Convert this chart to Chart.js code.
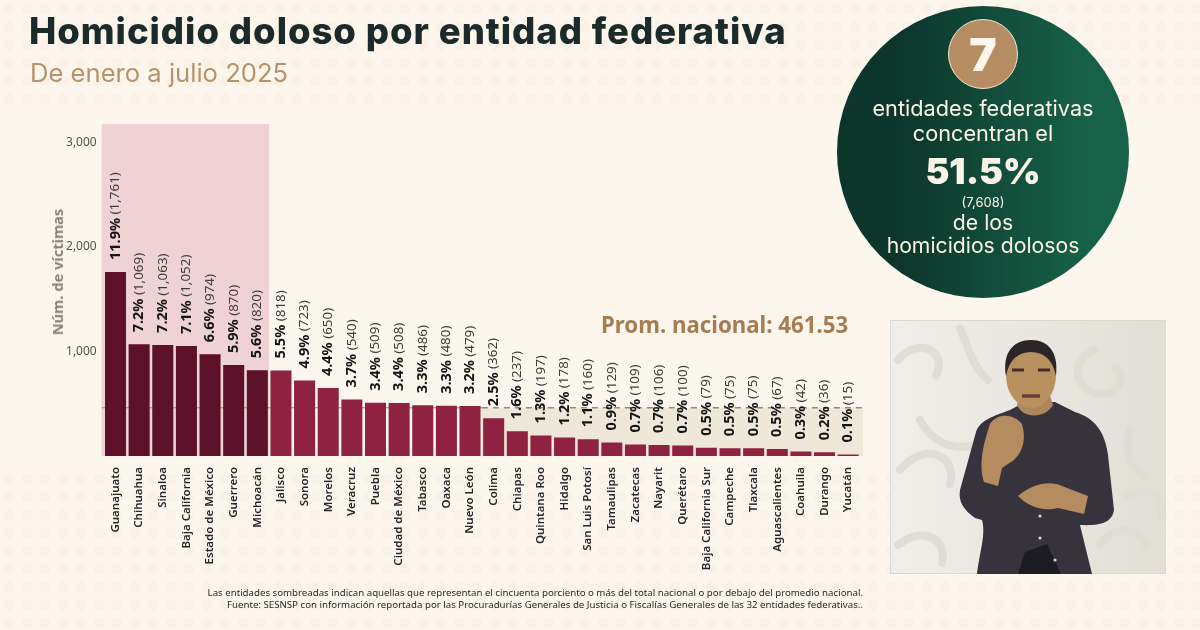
<!DOCTYPE html>
<html lang="es">
<head>
<meta charset="utf-8">
<title>Homicidio doloso por entidad federativa</title>
<script src="https://cdn.jsdelivr.net/npm/chart.js@4/dist/chart.umd.min.js"></script>
<style>
    html, body { margin: 0; padding: 0; }
    body { width: 1200px; height: 630px; overflow: hidden; position: relative; background: #fdf6ec; font-family: Inter, sans-serif; }
    .dots { position: absolute; left: 0; width: 1200px; background-image: radial-gradient(circle, #fbf2e7 5px, transparent 6px); background-size: 18px 18px; }
    #chart { position: absolute; left: 0; top: 0; }
    .txt { position: absolute; white-space: nowrap; }
    #titulo { left: 29px; top: 9px; font-size: 36.5px; font-weight: 800; letter-spacing: 0.95px; color: #1b2a2b; line-height: 44px; }
    #subtitulo { left: 30px; top: 57px; font-size: 25.6px; font-weight: 400; color: #b8926a; line-height: 32px; }
    #prom { left: 601px; top: 310px; font: bold 22.25px "Noto Sans", sans-serif; color: #a67c52; line-height: 30px; }
    #ejeY { left: 57px; top: 272px; transform: translate(-50%, -50%) rotate(-90deg); font: bold 14.6px "Noto Sans", sans-serif; color: #8a8178; }
    #nota { right: 337px; top: 587px; font: 9.68px/11.5px "Noto Sans", sans-serif; color: #2b2825; text-align: right; }
    #circulo { position: absolute; left: 837px; top: 6px; width: 292px; height: 292px; border-radius: 50%; background: linear-gradient(90deg, #0c352b 20%, #176148 85%); }
    #circulo .txt { left: 0; width: 292px; text-align: center; color: #fbf3e6; }
    #siete { position: absolute; left: 111px; top: 13px; width: 68px; height: 68px; border: 1.5px solid #f3e6d3; border-radius: 50%; background: #b68d62; color: #fdf6ec; font-size: 46px; font-weight: 900; line-height: 68px; text-align: center; }
    #interprete { position: absolute; left: 890px; top: 320px; width: 276px; height: 254px; }
</style>
</head>
<body>
<div class="dots" style="top:0;height:110px"></div>
<div class="dots" style="top:470px;height:160px"></div>

<canvas id="chart" width="1200" height="630"></canvas>

<div class="txt" id="titulo">Homicidio doloso por entidad federativa</div>
<div class="txt" id="subtitulo">De enero a julio 2025</div>
<div class="txt" id="ejeY">Núm. de víctimas</div>
<div class="txt" id="prom">Prom. nacional: 461.53</div>
<div class="txt" id="nota">Las entidades sombreadas indican aquellas que representan el cincuenta porciento o más del total nacional o por debajo del promedio nacional.<br>Fuente: SESNSP con información reportada por las Procuradurías Generales de Justicia o Fiscalías Generales de las 32 entidades federativas..</div>

<div id="circulo">
    <div id="siete">7</div>
    <div class="txt" style="top:89px;font-size:21.7px;line-height:26px">entidades federativas</div>
    <div class="txt" style="top:114px;font-size:21.7px;line-height:26px">concentran el</div>
    <div class="txt" style="top:142px;font-size:36px;font-weight:900;line-height:46px">51.5%</div>
    <div class="txt" style="top:187px;font-size:13px;line-height:18px">(7,608)</div>
    <div class="txt" style="top:203px;font-size:21.2px;line-height:26px">de los</div>
    <div class="txt" style="top:226px;font-size:21.2px;line-height:26px">homicidios dolosos</div>
</div>

<svg id="interprete" viewBox="0 0 276 254">
    <defs><linearGradient id="fondoFoto" x1="0" x2="1"><stop offset="0" stop-color="#f0eee9"/><stop offset="1" stop-color="#e2dfd8"/></linearGradient></defs>
    <rect x="0.5" y="0.5" width="275" height="253" fill="url(#fondoFoto)" stroke="#dcd8cf"/>
    <g fill="none" stroke="#e0ddd5" stroke-width="8" stroke-linecap="round">
        <path d="M8 40c22-25 50-8 38 16M70 8c10 25 14 40 28 52M10 150c25-30 58-14 50 14M30 100c10 20 30 30 50 26M8 225c25-20 50-6 44 18"/>
        <path d="M205 30c-25 8-22 40 4 44 20 2 28-16 16-26M240 110c-6 20 0 36 14 46M236 175c25-10 40 5 36 22M210 225c10-18 36-20 46 0"/>
    </g>
    <path d="M87 254C90 230 96 215 92 200L85 198C74 190 68 182 70 170L86 112C90 100 104 96 120 90L135 82H165L185 92C205 98 215 112 218 135L224 190C222 202 212 206 190 205L202 254Z" fill="#36333c"/>
    <path d="M128 254l7-22 22-8 14 30z" fill="#1b1c1f"/>
    <path d="M127 85c6 14 28 14 36 0l-6-20h-24z" fill="#ad875b"/>
    <ellipse cx="141" cy="55" rx="25" ry="33" fill="#b8915f"/>
    <path d="M116 56c-4-24 8-36 25-36s28 12 25 36c-3-16-12-24-25-24s-22 8-25 24z" fill="#2b2528"/>
    <path d="M122 50h12M148 50h12" stroke="#4d2a2a" stroke-width="3"/>
    <path d="M132 76h18" stroke="#6e3b3b" stroke-width="3.5"/>
    <path d="M100 104c8-12 24-10 32 0 4 14 2 26-8 36l-12 8-4 18-14-4c-6-18 0-40 6-58z" fill="#b48c5f"/>
    <path d="M128 176c14-12 32-16 44-10l26 10-4 18-26-6c-16 4-30-2-40-12z" fill="#b48c5f"/>
    <g fill="#d8d4cc"><circle cx="150" cy="196" r="1.6"/><circle cx="150" cy="218" r="1.6"/><circle cx="165" cy="240" r="1.6"/></g>
</svg>

<script>
// الفئات والقيم مأخوذة من الصورة
const categorias = ['Guanajuato', 'Chihuahua', 'Sinaloa', 'Baja California', 'Estado de México', 'Guerrero', 'Michoacán', 'Jalisco', 'Sonora', 'Morelos', 'Veracruz', 'Puebla', 'Ciudad de México', 'Tabasco', 'Oaxaca', 'Nuevo León', 'Colima', 'Chiapas', 'Quintana Roo', 'Hidalgo', 'San Luis Potosí', 'Tamaulipas', 'Zacatecas', 'Nayarit', 'Querétaro', 'Baja California Sur', 'Campeche', 'Tlaxcala', 'Aguascalientes', 'Coahuila', 'Durango', 'Yucatán'];
const victimas = [1761, 1069, 1063, 1052, 974, 870, 820, 818, 723, 650, 540, 509, 508, 486, 480, 479, 362, 237, 197, 178, 160, 129, 109, 106, 100, 79, 75, 75, 67, 42, 36, 15];
const porcentajes = ['11.9%', '7.2%', '7.2%', '7.1%', '6.6%', '5.9%', '5.6%', '5.5%', '4.9%', '4.4%', '3.7%', '3.4%', '3.4%', '3.3%', '3.3%', '3.2%', '2.5%', '1.6%', '1.3%', '1.2%', '1.1%', '0.9%', '0.7%', '0.7%', '0.7%', '0.5%', '0.5%', '0.5%', '0.5%', '0.3%', '0.2%', '0.1%'];
const yTicks = [1000, 2000, 3000];
const promedio = 461.53;
const numConcentran = 7;
const inicioBajoPromedio = 16;

const colorBar = (ctx) => ctx.dataIndex < numConcentran ? '#5c1029' : '#8f2240';

// sombreados y línea de promedio detrás de las barras
const fondoPlugin = {
    id: 'fondo',
    beforeDatasetsDraw(chart) {
        const { ctx, chartArea, scales } = chart;
        const band = scales.x.width / categorias.length;
        const yProm = scales.y.getPixelForValue(promedio);
        const xBeige = chartArea.left + band * inicioBajoPromedio;
        ctx.save();
        ctx.fillStyle = '#eed2d4';
        ctx.fillRect(chartArea.left - 2, chartArea.top, band * numConcentran + 2, chartArea.height);
        ctx.fillStyle = '#efe8d8';
        ctx.fillRect(xBeige, yProm, chartArea.right + 3 - xBeige, chartArea.bottom - yProm);
        ctx.strokeStyle = '#a5845f';
        ctx.lineWidth = 1;
        ctx.beginPath();
        ctx.moveTo(chartArea.left - 2, yProm);
        ctx.lineTo(xBeige, yProm);
        ctx.stroke();
        ctx.restore();
    },
    afterDatasetsDraw(chart) {
        const { ctx, chartArea, scales } = chart;
        const band = scales.x.width / categorias.length;
        const yProm = scales.y.getPixelForValue(promedio);
        ctx.save();
        ctx.strokeStyle = '#8d8880';
        ctx.lineWidth = 1.5;
        ctx.setLineDash([6, 5]);
        ctx.beginPath();
        ctx.moveTo(chartArea.left + band * inicioBajoPromedio, yProm);
        ctx.lineTo(chartArea.right + 3, yProm);
        ctx.stroke();
        ctx.restore();
    }
};

// etiquetas verticales: porcentaje en negritas y total entre paréntesis
const etiquetasPlugin = {
    id: 'etiquetas',
    afterDraw(chart) {
        const { ctx, scales } = chart;
        ctx.save();
        ctx.textBaseline = 'middle';
        ctx.textAlign = 'left';
        victimas.forEach((valor, i) => {
            const x = scales.x.getPixelForValue(i);
            const y = scales.y.getPixelForValue(valor) - 12;
            ctx.save();
            ctx.translate(x, y);
            ctx.rotate(-Math.PI / 2);
            ctx.font = 'bold 14.5px "Noto Sans", sans-serif';
            ctx.fillStyle = '#141414';
            ctx.fillText(porcentajes[i], 0, 0);
            const ancho = ctx.measureText(porcentajes[i]).width;
            ctx.font = '13.4px "Noto Sans", sans-serif';
            ctx.fillStyle = '#3f3d3a';
            ctx.fillText(' (' + valor.toLocaleString('en-US') + ')', ancho, 0);
            ctx.restore();
        });
        ctx.restore();
    }
};

new Chart(document.getElementById('chart').getContext('2d'), {
    type: 'bar',
    data: {
        labels: categorias,
        datasets: [{
            label: 'Núm. de víctimas',
            data: victimas,
            backgroundColor: colorBar,
            barPercentage: 0.89,
            categoryPercentage: 1
        }]
    },
    options: {
        responsive: false,
        animation: false,
        devicePixelRatio: 1,
        layout: { padding: { left: 0, top: 124, right: 340, bottom: 0 } },
        plugins: { legend: { display: false }, tooltip: { enabled: false } },
        scales: {
            x: {
                grid: { display: false, drawTicks: false },
                border: { display: false },
                afterFit(scale) { scale.height = 174; },
                ticks: {
                    autoSkip: false,
                    minRotation: 90,
                    maxRotation: 90,
                    padding: 11,
                    color: '#262626',
                    font: { family: '"Noto Sans", sans-serif', size: 11.5, weight: '600' }
                }
            },
            y: {
                min: 0,
                max: 3177,
                grid: { display: false, drawTicks: false },
                border: { display: false },
                afterFit(scale) { scale.width = 103.7; },
                afterBuildTicks(scale) { scale.ticks = yTicks.map(v => ({ value: v })); },
                ticks: {
                    padding: 7,
                    color: '#55524e',
                    font: { family: '"Noto Sans", sans-serif', size: 12 },
                    callback: value => value.toLocaleString('en-US')
                }
            }
        }
    },
    plugins: [fondoPlugin, etiquetasPlugin]
});
</script>
</body>
</html>
